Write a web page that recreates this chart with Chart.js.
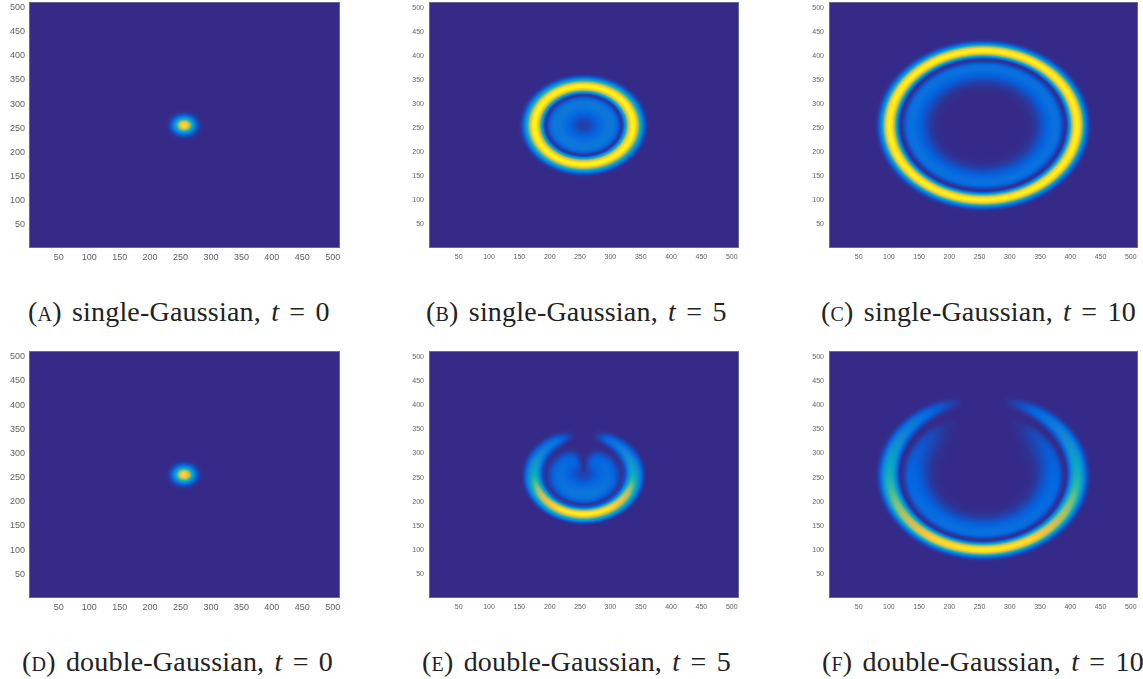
<!DOCTYPE html>
<html>
<head>
<meta charset="utf-8">
<title>Gaussian panels</title>
<script src="https://cdn.jsdelivr.net/npm/chart.js@4"></script>
<style>
    html, body { margin: 0; background: #fff; width: 1143px; height: 679px; overflow: hidden; }
    canvas { position: absolute; }
    .caption {
        position: absolute;
        white-space: nowrap;
        font-family: "Liberation Serif", serif;
        font-size: 28px;
        line-height: 28px;
        letter-spacing: 0.2px;
        word-spacing: 3px;
        color: #222;
    }
    .caption .sc { font-variant: small-caps; }
</style>
</head>
<body>
<script>
/* global Chart */

const tickValues = [50, 100, 150, 200, 250, 300, 350, 400, 450, 500];
const axisMin = 1;
const axisMax = 512;
const centre = [256, 256];

// old MATLAB parula, sampled evenly
const parula = [
    [53, 42, 135], [3, 99, 225], [20, 133, 212], [6, 167, 198], [46, 183, 164],
    [135, 191, 119], [209, 187, 89], [254, 200, 50], [249, 251, 14],
];

// radial profiles: radius in axis units, then level 0..1 per angle
// angle is measured from the bottom of the ring (0) to the top (180), both sides alike
const radiiT0 = [0, 6, 10, 14, 18, 22, 27, 32];
const levelsT0 = [[0.95, 0.85, 0.6, 0.36, 0.2, 0.09, 0.02, 0]];

const radiiSingleT5 = [0, 10, 20, 30, 40, 48, 55, 60, 62, 65, 70, 74, 78, 81, 85, 88, 92, 96, 100, 104, 108];
const levelsSingleT5 = [[0.04, 0.06, 0.11, 0.16, 0.2, 0.2, 0.14, 0.05, 0.02, 0.08, 0.42, 0.78, 0.96, 1, 0.95, 0.78, 0.5, 0.27, 0.12, 0.03, 0]];

const radiiSingleT10 = [0, 65, 78, 88, 98, 108, 118, 125, 130, 135, 138, 142, 146, 150, 155, 160, 164, 168, 172, 176, 180];
const levelsSingleT10 = [[0, 0, 0.01, 0.04, 0.09, 0.14, 0.18, 0.16, 0.08, 0.01, 0.04, 0.25, 0.6, 0.9, 1, 0.9, 0.6, 0.27, 0.12, 0.03, 0]];

const radiiDoubleT5 = [0, 10, 20, 30, 40, 48, 55, 62, 68, 72, 76, 80, 84, 88, 92, 96, 100, 104];
const anglesDoubleT5 = [0, 30, 60, 90, 120, 150, 160, 170, 180];
const levelsDoubleT5 = [
    [0.05, 0.08, 0.13, 0.18, 0.2, 0.19, 0.12, 0.02, 0.13, 0.48, 0.85, 1, 0.96, 0.78, 0.47, 0.24, 0.07, 0],
    [0.05, 0.08, 0.13, 0.17, 0.2, 0.18, 0.11, 0.02, 0.12, 0.46, 0.8, 0.96, 0.91, 0.72, 0.43, 0.22, 0.06, 0],
    [0.05, 0.08, 0.12, 0.16, 0.18, 0.16, 0.1, 0.02, 0.1, 0.34, 0.62, 0.78, 0.71, 0.55, 0.34, 0.18, 0.05, 0],
    [0.05, 0.07, 0.11, 0.15, 0.17, 0.14, 0.08, 0.02, 0.07, 0.2, 0.34, 0.42, 0.4, 0.32, 0.23, 0.13, 0.03, 0],
    [0.05, 0.06, 0.11, 0.15, 0.16, 0.13, 0.07, 0.01, 0.04, 0.12, 0.2, 0.26, 0.25, 0.21, 0.15, 0.08, 0.02, 0],
    [0.05, 0.05, 0.1, 0.13, 0.13, 0.09, 0.04, 0, 0.01, 0.05, 0.11, 0.16, 0.16, 0.13, 0.08, 0.03, 0, 0],
    [0.05, 0.04, 0.07, 0.1, 0.09, 0.05, 0.01, 0, 0, 0.01, 0.04, 0.07, 0.07, 0.05, 0.03, 0.01, 0, 0],
    [0.05, 0.03, 0.04, 0.04, 0.03, 0.01, 0, 0, 0, 0, 0, 0, 0, 0, 0, 0, 0, 0],
    [0.05, 0.02, 0.01, 0, 0, 0, 0, 0, 0, 0, 0, 0, 0, 0, 0, 0, 0, 0],
];

const radiiDoubleT10 = [0, 65, 78, 88, 98, 108, 118, 125, 130, 135, 138, 142, 146, 150, 155, 160, 164, 168, 172, 176, 180];
const anglesDoubleT10 = [0, 30, 60, 90, 120, 135, 150, 160, 168, 180];
const levelsDoubleT10 = [
    [0, 0, 0.01, 0.04, 0.09, 0.14, 0.18, 0.16, 0.08, 0.01, 0.04, 0.25, 0.6, 0.9, 1, 0.9, 0.6, 0.27, 0.12, 0.03, 0],
    [0, 0, 0.01, 0.04, 0.09, 0.14, 0.17, 0.16, 0.08, 0.01, 0.04, 0.24, 0.57, 0.85, 0.94, 0.85, 0.58, 0.27, 0.11, 0.03, 0],
    [0, 0, 0.01, 0.04, 0.09, 0.13, 0.16, 0.14, 0.07, 0.01, 0.03, 0.2, 0.44, 0.64, 0.7, 0.64, 0.46, 0.23, 0.1, 0.02, 0],
    [0, 0, 0.01, 0.03, 0.08, 0.12, 0.14, 0.12, 0.05, 0.01, 0.02, 0.13, 0.27, 0.4, 0.44, 0.4, 0.3, 0.18, 0.08, 0.02, 0],
    [0, 0, 0.01, 0.02, 0.05, 0.08, 0.1, 0.08, 0.03, 0, 0.01, 0.07, 0.15, 0.23, 0.26, 0.24, 0.2, 0.12, 0.05, 0.01, 0],
    [0, 0, 0, 0.01, 0.03, 0.05, 0.07, 0.05, 0.02, 0, 0, 0.04, 0.1, 0.17, 0.2, 0.19, 0.15, 0.08, 0.03, 0, 0],
    [0, 0, 0, 0, 0, 0.01, 0.02, 0.01, 0, 0, 0, 0.02, 0.05, 0.09, 0.12, 0.11, 0.08, 0.04, 0.01, 0, 0],
    [0, 0, 0, 0, 0, 0, 0, 0, 0, 0, 0, 0, 0.02, 0.04, 0.05, 0.05, 0.03, 0.01, 0, 0, 0],
    [0, 0, 0, 0, 0, 0, 0, 0, 0, 0, 0, 0, 0, 0, 0, 0, 0, 0, 0, 0, 0],
    [0, 0, 0, 0, 0, 0, 0, 0, 0, 0, 0, 0, 0, 0, 0, 0, 0, 0, 0, 0, 0],
];

const captions = [
    ['(a)', 'single-Gaussian', '0'], ['(b)', 'single-Gaussian', '5'], ['(c)', 'single-Gaussian', '10'],
    ['(d)', 'double-Gaussian', '0'], ['(e)', 'double-Gaussian', '5'], ['(f)', 'double-Gaussian', '10'],
];

const panels = [
    { id: 'A', left: 29, top: 2, right: 340, bottom: 248, font: 9, radii: radiiT0, angles: [0], levels: levelsT0, capLeft: 28, capTop: 298 },
    { id: 'B', left: 429, top: 2, right: 739, bottom: 248, font: 7, radii: radiiSingleT5, angles: [0], levels: levelsSingleT5, capLeft: 426, capTop: 298 },
    { id: 'C', left: 829, top: 2, right: 1138, bottom: 248, font: 7, radii: radiiSingleT10, angles: [0], levels: levelsSingleT10, capLeft: 821, capTop: 298 },
    { id: 'D', left: 29, top: 351, right: 340, bottom: 598, font: 9, radii: radiiT0, angles: [0], levels: levelsT0, capLeft: 22, capTop: 648 },
    { id: 'E', left: 429, top: 351, right: 739, bottom: 598, font: 7, radii: radiiDoubleT5, angles: anglesDoubleT5, levels: levelsDoubleT5, capLeft: 422, capTop: 648 },
    { id: 'F', left: 829, top: 351, right: 1138, bottom: 598, font: 7, radii: radiiDoubleT10, angles: anglesDoubleT10, levels: levelsDoubleT10, capLeft: 822, capTop: 648 },
];

function bracket(list, value) {
    if (list.length < 2) return [0, 0, 0];
    let i = 0;
    while (i < list.length - 2 && value > list[i + 1]) i++;
    const span = list[i + 1] - list[i];
    return [i, i + 1, Math.min(1, Math.max(0, (value - list[i]) / span))];
}

function colourFor(level) {
    const pos = Math.min(0.9999, Math.max(0, level)) * (parula.length - 1);
    const i = Math.floor(pos);
    const f = pos - i;
    return parula[i].map((c, k) => c + (parula[i + 1][k] - c) * f);
}

function levelAt(panel, r, angle) {
    if (r >= panel.radii[panel.radii.length - 1]) return 0;
    const [r0, r1, fr] = bracket(panel.radii, r);
    const [a0, a1, fa] = bracket(panel.angles, angle);
    const low = panel.levels[a0][r0] + (panel.levels[a0][r1] - panel.levels[a0][r0]) * fr;
    const high = panel.levels[a1][r0] + (panel.levels[a1][r1] - panel.levels[a1][r0]) * fr;
    return low + (high - low) * fa;
}

// imagesc-like heat map: every pixel of the plot area is looked up through the chart's scales
const heatMapPlugin = {
    id: 'heatMap',
    beforeDatasetsDraw(chart, args, options) {
        const { ctx, chartArea, scales } = chart;
        const panel = options.panel;
        const x0 = Math.round(chartArea.left);
        const y0 = Math.round(chartArea.top);
        const w = Math.round(chartArea.right) - x0;
        const h = Math.round(chartArea.bottom) - y0;
        const image = ctx.createImageData(w, h);
        for (let py = 0; py < h; py++) {
            const dy = scales.y.getValueForPixel(y0 + py + 0.5) - centre[1];
            for (let px = 0; px < w; px++) {
                const dx = scales.x.getValueForPixel(x0 + px + 0.5) - centre[0];
                const r = Math.hypot(dx, dy);
                const angle = Math.abs(Math.atan2(dx, -dy)) * 180 / Math.PI;
                const rgb = colourFor(levelAt(panel, r, angle));
                const at = (py * w + px) * 4;
                image.data[at] = rgb[0];
                image.data[at + 1] = rgb[1];
                image.data[at + 2] = rgb[2];
                image.data[at + 3] = 255;
            }
        }
        ctx.putImageData(image, x0, y0);
        ctx.save();
        ctx.strokeStyle = 'rgba(130, 130, 150, 0.7)';
        ctx.lineWidth = 1;
        ctx.strokeRect(x0 + 0.5, y0 + 0.5, w - 1, h - 1);
        ctx.restore();
    },
};

function axisOptions(panel, size, isX) {
    return {
        type: 'linear',
        min: axisMin,
        max: axisMax,
        grid: { display: false, drawTicks: false },
        border: { display: false },
        afterBuildTicks: (scale) => {
            scale.ticks = tickValues.map(value => ({ value }));
        },
        afterFit: (scale) => {
            if (isX) scale.height = size;
            else scale.width = size;
        },
        ticks: {
            autoSkip: false,
            maxRotation: 0,
            padding: panel.font === 9 ? 4 : 5,
            color: '#5f5f5f',
            font: { family: '"Liberation Sans", Arial, sans-serif', size: panel.font },
        },
    };
}

function createPanel(panel, caption) {
    const canvas = document.createElement('canvas');
    const pad = { left: 30, top: 14, right: 8, bottom: 22 };
    canvas.width = panel.right - panel.left + pad.left + pad.right;
    canvas.height = panel.bottom - panel.top + pad.top + pad.bottom;
    canvas.style.left = `${panel.left - pad.left}px`;
    canvas.style.top = `${panel.top - pad.top}px`;
    document.body.appendChild(canvas);

    new Chart(canvas, {
        type: 'scatter',
        data: { datasets: [{ label: panel.id, data: [], pointRadius: 0 }] },
        options: {
            responsive: false,
            animation: false,
            devicePixelRatio: 1,
            layout: { padding: { top: pad.top, right: pad.right, left: 0, bottom: 0 } },
            plugins: {
                legend: { display: false },
                tooltip: { enabled: false },
                heatMap: { panel },
            },
            scales: {
                x: axisOptions(panel, pad.bottom, true),
                y: axisOptions(panel, pad.left, false),
            },
        },
        plugins: [heatMapPlugin],
    });

    const label = document.createElement('div');
    label.className = 'caption';
    label.style.left = `${panel.capLeft}px`;
    label.style.top = `${panel.capTop}px`;
    label.innerHTML = `<span class="sc">${caption[0]}</span>&nbsp;${caption[1]}, <i>t</i> = ${caption[2]}`;
    document.body.appendChild(label);
}

panels.forEach((panel, i) => createPanel(panel, captions[i]));
</script>
</body>
</html>
